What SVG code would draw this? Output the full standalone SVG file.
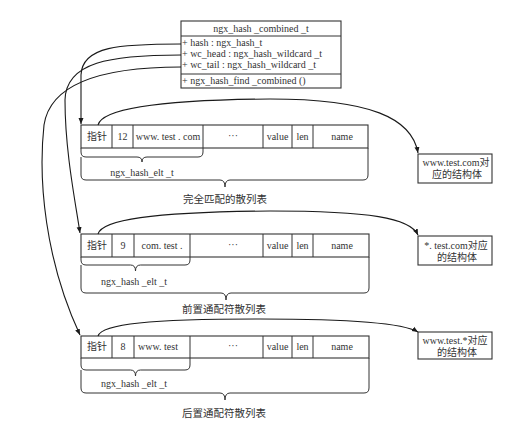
<svg xmlns="http://www.w3.org/2000/svg" width="515" height="424" viewBox="0 0 515 424" font-family="'Liberation Serif', 'Noto Sans CJK SC', serif">
<style>
text{font-family:'Liberation Serif','Times New Roman','Noto Sans CJK SC',serif;font-size:10px;fill:#333}
.c{text-anchor:middle}
.cj{font-size:10.5px}
.box{fill:#fff;stroke:#333;stroke-width:1.1}
.ln{fill:none;stroke:#333;stroke-width:1}
.cn{fill:none;stroke:#1a1a1a;stroke-width:1.1}
</style>
<defs>
<marker id="ah" viewBox="0 0 6 6" refX="6" refY="3" markerWidth="6" markerHeight="6" markerUnits="userSpaceOnUse" orient="auto">
<path d="M0,0.5 L6,3 L0,5.5 Z" fill="#1a1a1a"/>
</marker>
</defs>
<rect width="515" height="424" fill="#fff"/>

<g id="struct">
<rect class="box" x="181" y="21" width="160" height="67"/>
<line class="ln" x1="181" y1="36" x2="341" y2="36"/>
<line class="ln" x1="181" y1="74" x2="341" y2="74"/>
<text class="c" x="261" y="32">ngx_hash _combined _t</text>
<text x="182" y="46">+ hash : ngx_hash_t</text>
<text x="182" y="57">+ wc_head : ngx_hash_wildcard _t</text>
<text x="182" y="68">+ wc_tail : ngx_hash_wildcard _t</text>
<text x="182" y="84">+ ngx_hash_find _combined ()</text>
</g>

<g id="table1">
<rect class="box" x="81" y="125" width="287" height="23"/>
<path class="ln" d="M112,125V148M133,125V148M203,125V148M263,125V148M292,125V148M313,125V148"/>
<text class="c" x="97" y="140">指针</text>
<text class="c" x="122.5" y="140">12</text>
<text class="c" x="168" y="140">www. test . com</text>
<text class="c" x="233" y="139">···</text>
<text class="c" x="277.5" y="140">value</text>
<text class="c" x="302.5" y="140">len</text>
<text class="c" x="342" y="140">name</text>
<path class="ln" d="M81,148V152Q81,157 86,157H137Q142,157 142,162Q142,157 147,157H198Q203,157 203,152V148"/>
<path class="ln" d="M81,157V175Q81,180 86,180H220Q225,180 225,187Q225,180 230,180H363Q368,180 368,175V148"/>
<text class="c" x="142" y="176">ngx_hash_elt _t</text>
<text class="c cj" x="225" y="203">完全匹配的散列表</text>
</g>

<g id="table2">
<rect class="box" x="81" y="234" width="288" height="23"/>
<path class="ln" d="M112,234V257M134,234V257M190,234V257M263,234V257M292,234V257M313,234V257"/>
<text class="c" x="97" y="249">指针</text>
<text class="c" x="123" y="249">9</text>
<text class="c" x="162" y="249">com. test .</text>
<text class="c" x="233" y="248">···</text>
<text class="c" x="277.5" y="249">value</text>
<text class="c" x="302.5" y="249">len</text>
<text class="c" x="342" y="249">name</text>
<path class="ln" d="M81,257V260Q81,265 86,265H130.5Q135.5,265 135.5,271Q135.5,265 140.5,265H185Q190,265 190,260V257"/>
<path class="ln" d="M81,265V288Q81,293 86,293H221Q226,293 226,300Q226,293 231,293H364Q369,293 369,288V257"/>
<text class="c" x="134" y="285">ngx_hash _elt _t</text>
<text class="c cj" x="224" y="313">前置通配符散列表</text>
</g>

<g id="table3">
<rect class="box" x="81" y="336" width="288" height="22"/>
<path class="ln" d="M112,336V358M134,336V358M190,336V358M263,336V358M292,336V358M313,336V358"/>
<text class="c" x="97" y="350">指针</text>
<text class="c" x="123" y="350">8</text>
<text class="c" x="158" y="350">www. test</text>
<text class="c" x="233" y="349">···</text>
<text class="c" x="277.5" y="350">value</text>
<text class="c" x="302.5" y="350">len</text>
<text class="c" x="342" y="350">name</text>
<path class="ln" d="M81,358V365Q81,370 86,370H130.5Q135.5,370 135.5,376Q135.5,370 140.5,370H185Q190,370 190,365V358"/>
<path class="ln" d="M81,370V388Q81,393 86,393H220Q225,393 225,400Q225,393 230,393H364Q369,393 369,388V358"/>
<text class="c" x="134" y="387">ngx_hash _elt _t</text>
<text class="c cj" x="224" y="417">后置通配符散列表</text>
</g>

<g id="target1">
<rect class="box" x="418" y="154" width="74" height="29"/>
<text class="c" x="456" y="166">www.test.com对</text>
<text class="c" x="457" y="178">应的结构体</text>
</g>
<g id="target2">
<rect class="box" x="418" y="236" width="74" height="29"/>
<text class="c" x="456" y="249">*. test.com对应</text>
<text class="c" x="457" y="261">的结构体</text>
</g>
<g id="target3">
<rect class="box" x="418" y="332" width="74" height="27"/>
<text class="c" x="455" y="344">www.test.*对应</text>
<text class="c" x="457" y="356">的结构体</text>
</g>

<g id="connectors">
<path class="cn" marker-end="url(#ah)" d="M181,44C120,44 82,46 81,75L81,124"/>
<path class="cn" marker-end="url(#ah)" d="M181,55C110,55 66,62 65,100C65,150 75,200 80,233"/>
<path class="cn" marker-end="url(#ah)" d="M181,67C100,67 50,85 44,125C38,180 45,260 80,335"/>
<path class="cn" marker-end="url(#ah)" d="M98,125C102,110 150,100 270,99C370,99 412,118 418,153"/>
<path class="cn" marker-end="url(#ah)" d="M98,234C102,220 150,212 270,211C370,211 410,218 418,235"/>
<path class="cn" marker-end="url(#ah)" d="M98,336C102,324 150,319 260,319C360,319 405,324 418,332"/>
</g>
</svg>
